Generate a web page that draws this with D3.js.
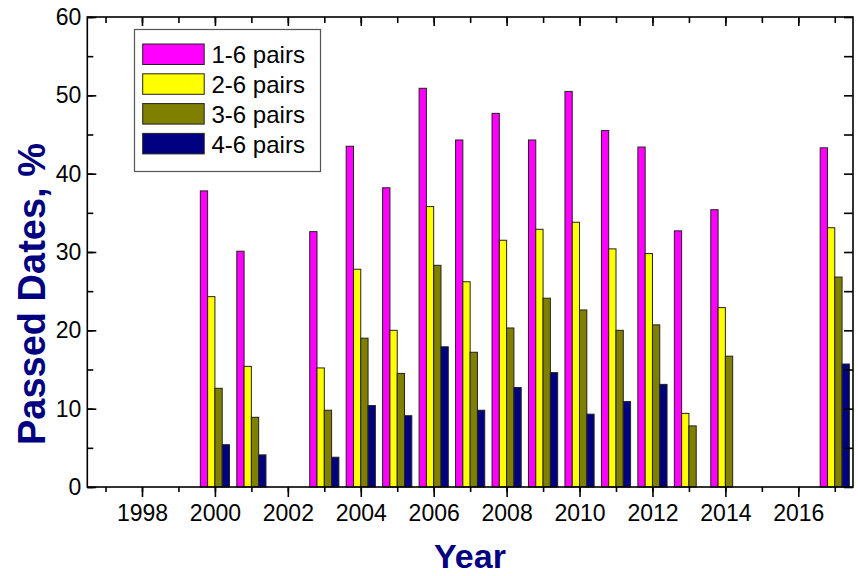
<!DOCTYPE html>
<html><head><meta charset="utf-8">
<script src="https://cdn.jsdelivr.net/npm/d3@7"></script>
<style>body{margin:0;background:#fff}svg{display:block}text{font-family:"Liberation Sans",Arial,sans-serif}</style>
</head><body>
<svg id="c" width="858" height="576"></svg>
<script>
const years = [2000,2001,2003,2004,2005,2006,2007,2008,2009,2010,2011,2012,2013,2014,2017];
const pairs16 = [37.8,30.1,32.6,43.5,38.2,50.9,44.3,47.7,44.3,50.5,45.5,43.4,32.7,35.4,43.3];
const pairs26 = [24.3,15.4,15.2,27.8,20.0,35.8,26.2,31.5,32.9,33.8,30.4,29.8,9.4,22.9,33.1];
const pairs36 = [12.6,8.9,9.8,19.0,14.5,28.3,17.2,20.3,24.1,22.6,20.0,20.7,7.8,16.7,26.8];
const pairs46 = [5.4,4.1,3.8,10.4,9.1,17.9,9.8,12.7,14.6,9.3,10.9,13.1,null,null,15.7];
const seriesNames = ["1-6 pairs","2-6 pairs","3-6 pairs","4-6 pairs"];
const seriesColors = ["#FF00FF","#FFFF00","#808000","#000080"];
const xTickYears = [1998,2000,2002,2004,2006,2008,2010,2012,2014,2016];
const yTicks = [0,10,20,30,40,50,60];

const series = [pairs16,pairs26,pairs36,pairs46];
const svg = d3.select("#c");
const L=87.3, R=853, T=17, B=487;
const x = d3.scaleLinear().domain([1996.5,2017.5]).range([L,R]);
const y = d3.scaleLinear().domain([0,60]).range([B,T]);
const bw = 0.2;

series.forEach((vals,si)=>{
  svg.append("g").selectAll("rect").data(years.map((yr,i)=>({yr,v:vals[i]})).filter(d=>d.v!=null))
    .join("rect")
    .attr("x",d=>x(d.yr-0.4+si*bw))
    .attr("width",x(1996.5+bw)-x(1996.5))
    .attr("y",d=>y(d.v))
    .attr("height",d=>y(0)-y(d.v))
    .attr("fill",seriesColors[si])
    .attr("stroke","#222").attr("stroke-width",1);
});

const minorX = d3.range(1997,2018);
const minorY = d3.range(0,61,5);
const axisColor="#000";
const gb = svg.append("g").attr("transform",`translate(0,${B})`)
  .call(d3.axisBottom(x).tickValues(minorX).tickSize(5).tickFormat(""));
const gb2 = svg.append("g").attr("transform",`translate(0,${B})`)
  .call(d3.axisBottom(x).tickValues(xTickYears).tickSize(10).tickPadding(8).tickFormat(d3.format("d")));
const gt = svg.append("g").attr("transform",`translate(0,${T})`)
  .call(d3.axisBottom(x).tickValues(minorX).tickSize(6).tickFormat(""));
const gt2 = svg.append("g").attr("transform",`translate(0,${T})`)
  .call(d3.axisBottom(x).tickValues(xTickYears).tickSize(9).tickFormat(""));
const gl = svg.append("g").attr("transform",`translate(${L},0)`)
  .call(d3.axisRight(y).tickValues(minorY).tickSize(6).tickFormat(""));
const gl2 = svg.append("g").attr("transform",`translate(${L},0)`)
  .call(d3.axisLeft(y).tickValues(yTicks).tickSize(0).tickPadding(6).tickFormat(d3.format("d")));
const gl3 = svg.append("g").attr("transform",`translate(${L},0)`)
  .call(d3.axisRight(y).tickValues(yTicks).tickSize(9).tickFormat(""));
const gr = svg.append("g").attr("transform",`translate(${R},0)`)
  .call(d3.axisLeft(y).tickValues(minorY).tickSize(9).tickFormat(""));

[gb,gb2,gt,gt2,gl,gl2,gl3,gr].forEach(g=>{
  g.select(".domain").remove();
  g.selectAll("line").attr("stroke",axisColor).attr("stroke-width",1.6);
  g.selectAll("text").attr("font-size",23).attr("fill","#000").attr("font-family","'Liberation Sans',Arial,sans-serif");
});
svg.append("rect").attr("x",L).attr("y",T).attr("width",R-L).attr("height",B-T)
  .attr("fill","none").attr("stroke","#000").attr("stroke-width",1.6);

const lg = svg.append("g");
lg.append("rect").attr("x",134.5).attr("y",29.5).attr("width",186).attr("height",142)
  .attr("fill","#fff").attr("stroke","#555").attr("stroke-width",1.2);
seriesNames.forEach((n,i)=>{
  const yy = 44 + i*29.8;
  lg.append("rect").attr("x",142.7).attr("y",yy).attr("width",61.5).attr("height",20.5)
    .attr("fill",seriesColors[i]).attr("stroke","#222").attr("stroke-width",1);
  lg.append("text").attr("x",211.5).attr("y",yy+10.5).attr("dy","0.36em")
    .attr("font-size",24).attr("fill","#000").text(n);
});

svg.append("text").attr("x",470).attr("y",568).attr("text-anchor","middle")
  .attr("font-size",34).attr("font-weight","bold").attr("fill","#000080").text("Year");
svg.append("text").attr("transform","translate(45,294) rotate(-90)").attr("text-anchor","middle")
  .attr("font-size",38).attr("font-weight","bold").attr("fill","#000080").text("Passed Dates, %");
</script>
</body></html>
